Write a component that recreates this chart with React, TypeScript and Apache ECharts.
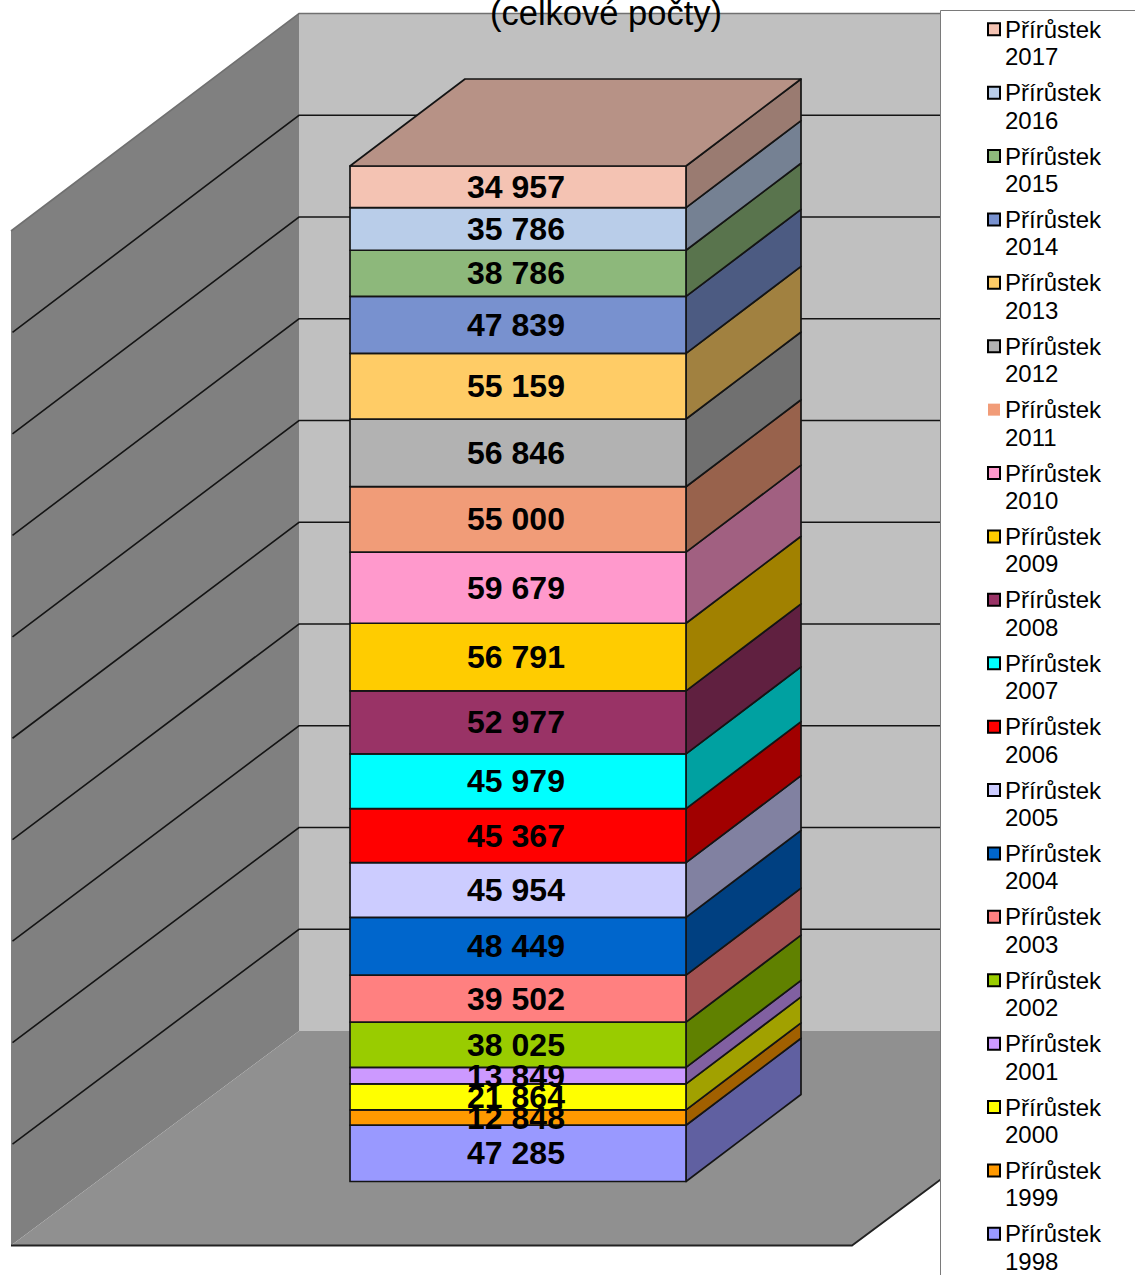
import React, { useEffect, useRef } from "react";
import * as echarts from "echarts";

const years = ["1998","1999","2000","2001","2002","2003","2004","2005","2006","2007","2008","2009","2010","2011","2012","2013","2014","2015","2016","2017"];
const increments = [47285,12848,21864,13849,38025,39502,48449,45954,45367,45979,52977,56791,59679,55000,56846,55159,47839,38786,35786,34957];
const barColors = ["#9999FF","#FF9900","#FFFF00","#CC99FF","#99CC00","#FF8080","#0066CC","#CCCCFF","#FF0000","#00FFFF","#993366","#FFCC00","#FF99CC","#F19C78","#B2B2B2","#FFCC66","#7891CF","#8DB87B","#B9CDE9","#F4C3B3"];
const titleText = "(celkové počty)";
const seriesPrefix = "Přírůstek";
const gridDivisions = [1,2,3,4,5,6,7,8,9,10];

const total = increments.reduce((a, b) => a + b, 0);

const W = 1135, H = 1275;
const LINE = "#141414";

function shade(hex: string, f: number) {
  const n = parseInt(hex.slice(1), 16);
  const r = Math.round(((n >> 16) & 255) * f);
  const g = Math.round(((n >> 8) & 255) * f);
  const b = Math.round((n & 255) * f);
  return `rgb(${r},${g},${b})`;
}
const fmt = (v: number) => String(v).replace(/\B(?=(\d{3})+$)/g, " ");

// Bar depth and wall placement, relative to the bar's front plane.
const BAR_DX = 115, BAR_DY = -87;
const WALL_FRONT_X = 11, WALL_BACK_X = 299, WALL_RIGHT_X = 1140;
const backY = (y: number) => 13.5 + (y - 166) * (1017 / 1015);
const frontY = (y: number) => 231 + (y - 166) * (1014 / 1015);

function poly(points: number[][], fill: string, stroke?: string, lw = 1.7) {
  return {
    type: "polygon",
    shape: { points },
    style: { fill, stroke: stroke || "none", lineWidth: lw, lineJoin: "round" },
  };
}

function renderWalls(_: any, api: any) {
  const yTop = api.coord([0, total])[1];
  const y0 = api.coord([0, 0])[1];
  const fb = frontY(y0), bb = backY(y0), ft = frontY(yTop), bt = backY(yTop);
  return {
    type: "group",
    children: [
      poly([[WALL_BACK_X, bt],[WALL_RIGHT_X, bt],[WALL_RIGHT_X, bb],[WALL_BACK_X, bb]], "#C0C0C0"),
      poly([[WALL_FRONT_X, ft],[WALL_BACK_X, bt],[WALL_BACK_X, bb],[WALL_FRONT_X, fb]], "#808080"),
      poly([[WALL_FRONT_X, fb],[852, fb],[WALL_RIGHT_X, bb],[WALL_BACK_X, bb]], "#909090"),
      { type: "polyline", shape: { points: [[WALL_FRONT_X, fb],[852, fb],[WALL_RIGHT_X, bb]] }, style: { fill: "none", stroke: "#222", lineWidth: 1.8 } },
    ],
  };
}

function renderGridLine(_: any, api: any) {
  const v = (api.value(0) / 10) * total;
  const y = api.coord([0, v])[1];
  const isTop = api.value(0) === 10;
  return {
    type: "polyline",
    shape: { points: [[isTop ? WALL_FRONT_X : 12.5, frontY(y)],[WALL_BACK_X, backY(y)],[WALL_RIGHT_X, backY(y)]] },
    style: { fill: "none", stroke: isTop ? "#707070" : LINE, lineWidth: 1.6 },
  };
}

function makeBarRenderer(color: string, isTop: boolean) {
  return (_: any, api: any) => {
    const base = api.value(0);
    const top = api.value(1);
    const [xl, yb] = api.coord([0, base]);
    const [xr, yt] = api.coord([1, top]);
    const children: any[] = [
      poly([[xr, yb],[xr + BAR_DX, yb + BAR_DY],[xr + BAR_DX, yt + BAR_DY],[xr, yt]], shade(color, 0.63), LINE),
      poly([[xl, yb],[xr, yb],[xr, yt],[xl, yt]], color, LINE),
    ];
    if (isTop) {
      children.push(poly([[xl, yt],[xr, yt],[xr + BAR_DX, yt + BAR_DY],[xl + BAR_DX, yt + BAR_DY]], shade(color, 0.75), LINE));
    }
    children.push({
      type: "text",
      z2: 100,
      style: {
        text: fmt(top - base),
        x: (xl + xr) / 2 - 2,
        y: (yb + yt) / 2,
        align: "center",
        verticalAlign: "middle",
        fill: "#000",
        font: 'bold 32px "Liberation Sans", Arial, sans-serif',
      },
    });
    return { type: "group", children };
  };
}

export default function App() {
  const ref = useRef<HTMLDivElement>(null);
  useEffect(() => {
    const chart = echarts.init(ref.current!, undefined, { renderer: "svg" });
    let cum = 0;
    const barSeries = years.map((yr, i) => {
      const base = cum;
      cum += increments[i];
      return {
        type: "custom",
        name: `${seriesPrefix} ${yr}`,
        z: 2,
        silent: true,
        clip: false,
        itemStyle: { color: barColors[i] },
        renderItem: makeBarRenderer(barColors[i], i === years.length - 1),
        data: [[base, cum]],
        encode: { y: [0, 1] },
      };
    });
    chart.setOption({
      animation: false,
      backgroundColor: "#fff",
      title: {
        text: titleText,
        left: 606,
        textAlign: "center",
        top: -5,
        padding: 0,
        textStyle: { fontFamily: '"Liberation Sans", Arial, sans-serif', fontSize: 34.5, fontWeight: "normal", color: "#000" },
      },
      grid: { left: 350, right: W - 686, top: 166, bottom: H - 1181.5 },
      xAxis: { type: "value", min: 0, max: 1, show: false },
      yAxis: { type: "value", min: 0, max: total, interval: total / 10, show: false },
      legend: {
        orient: "vertical",
        left: 987,
        top: -12,
        height: 1500,
        padding: 0,
        itemWidth: 12,
        itemHeight: 12,
        itemGap: -19.1,
        selectedMode: false,
        z: 5,
        icon: "rect",
        itemStyle: { borderColor: "#000", borderWidth: 2 },
        textStyle: {
          fontFamily: '"Liberation Sans", Arial, sans-serif',
          fontSize: 24,
          lineHeight: 27.5,
          color: "#000",
        },
        formatter: (name: string) => "\n" + name.replace(" ", "\n"),
        data: [...years].reverse().map((yr) =>
          yr === "2011"
            ? { name: `${seriesPrefix} ${yr}`, itemStyle: { borderWidth: 0 } }
            : { name: `${seriesPrefix} ${yr}` }
        ),
      },
      graphic: [
        {
          type: "rect",
          z: 4,
          silent: true,
          shape: { x: 940.5, y: 10.5, width: 220, height: 1300 },
          style: { fill: "#fff", stroke: "#7a7a7a", lineWidth: 1 },
        },
      ],
      series: [
        { type: "custom", name: "walls", z: 1, silent: true, clip: false, renderItem: renderWalls, data: [[0]] },
        { type: "custom", name: "grid", z: 1, silent: true, clip: false, renderItem: renderGridLine, data: gridDivisions.map((d) => [d]) },
        ...barSeries,
      ],
    });
    return () => chart.dispose();
  }, []);
  return <div ref={ref} style={{ position: "fixed", left: 0, top: 0, width: W, height: H }} />;
}
